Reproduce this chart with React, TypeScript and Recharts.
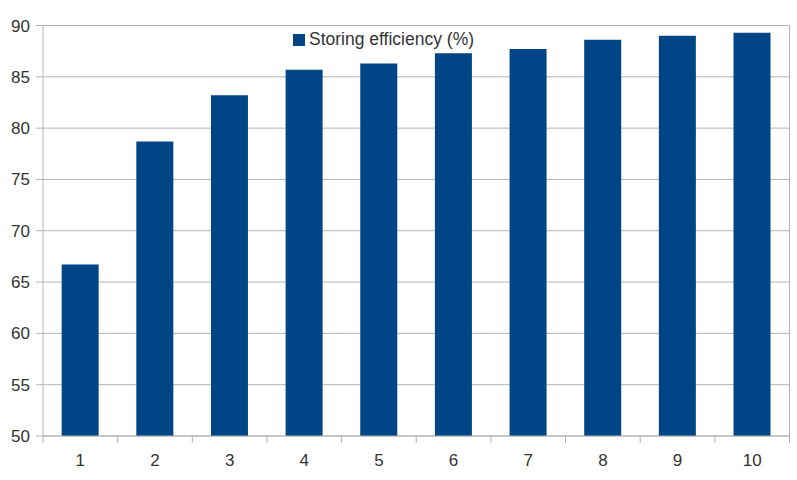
import React from 'react'
import { BarChart, Bar, XAxis, YAxis, CartesianGrid, Legend } from 'recharts'

const categories = ['1', '2', '3', '4', '5', '6', '7', '8', '9', '10']
const efficiency = [66.7, 78.7, 83.2, 85.7, 86.3, 87.3, 87.7, 88.6, 89.0, 89.3]
const yTicks = [50, 55, 60, 65, 70, 75, 80, 85, 90]
const boundaryTicks = [0.5, 1.5, 2.5, 3.5, 4.5, 5.5, 6.5, 7.5, 8.5, 9.5, 10.5]

const data = categories.map((c, i) => ({
  name: c,
  pos: i + 1,
  'Storing efficiency (%)': efficiency[i],
}))

const GRID = '#b3b3b3'
const TEXT = '#333333'

export default function App() {
  return (
    <div style={{ width: 797, height: 480, fontFamily: '"Liberation Sans", Arial, sans-serif' }}>
      <style>{'body{margin:0}'}</style>
      <BarChart
        width={797}
        height={480}
        data={data}
        barCategoryGap="25%"
        margin={{ top: 25.5, right: 6.5, bottom: 0, left: 0 }}
      >
        <CartesianGrid vertical={false} stroke={GRID} strokeWidth={1} yAxisId="left" xAxisId="b" />
        {/* boundary ticks between categories */}
        <XAxis
          xAxisId="a"
          dataKey="pos"
          type="number"
          domain={[0.5, 10.5]}
          ticks={boundaryTicks}
          allowDataOverflow
          height={1}
          tickSize={7}
          tickFormatter={() => ''}
          axisLine={{ stroke: GRID }}
          tickLine={{ stroke: GRID }}
        />
        <XAxis
          xAxisId="b"
          dataKey="name"
          height={43}
          axisLine={false}
          tickLine={false}
          tickSize={0}
          tickMargin={17}
          tick={{ fill: TEXT, fontSize: 17 }}
        />
        <YAxis
          yAxisId="left"
          domain={[50, 90]}
          ticks={yTicks}
          width={43}
          tickSize={7}
          tickMargin={6}
          axisLine={{ stroke: GRID }}
          tickLine={{ stroke: GRID }}
          tick={{ fill: TEXT, fontSize: 17 }}
        />
        <YAxis
          yAxisId="right"
          orientation="right"
          domain={[50, 90]}
          width={1}
          tick={false}
          tickLine={false}
          axisLine={{ stroke: GRID }}
        />
        <Legend
          verticalAlign="middle"
          align="center"
          iconType="square"
          iconSize={12}
          wrapperStyle={{ top: 29, left: 293, width: 'auto', fontSize: 17.5 }}
          formatter={(v) => <span style={{ color: TEXT }}>{v}</span>}
        />
        <Bar
          xAxisId="b"
          yAxisId="left"
          dataKey="Storing efficiency (%)"
          fill="#004586"
          isAnimationActive={false}
        />
      </BarChart>
    </div>
  )
}
